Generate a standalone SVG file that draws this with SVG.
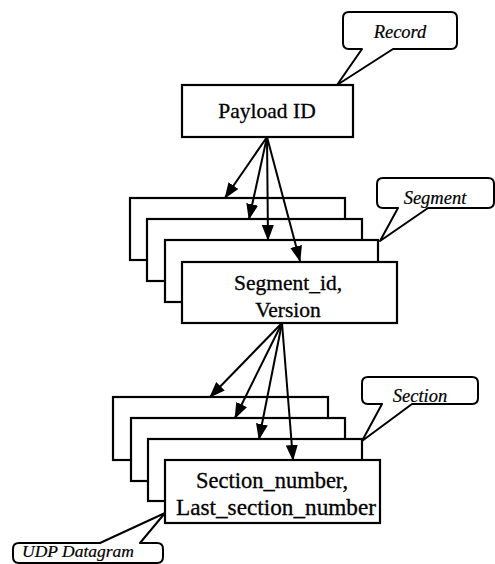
<svg xmlns="http://www.w3.org/2000/svg" width="495" height="564" viewBox="0 0 495 564">
<style>
.box{fill:#fff;stroke:#000;stroke-width:2.2}
.call{fill:#fff;stroke:#000;stroke-width:2;stroke-linejoin:round}
.t{font-family:"Liberation Serif","Times New Roman",serif;font-size:21.5px;fill:#000;stroke:#000;stroke-width:0.3;text-anchor:middle}
.ct{font-family:"Liberation Serif","Times New Roman",serif;font-style:italic;font-size:18.5px;fill:#000;stroke:#000;stroke-width:0.2;text-anchor:middle}
.conn line{stroke:#000;stroke-width:2;marker-end:url(#ah)}
</style>
<defs>
<marker id="ah" viewBox="0 0 16 12" refX="15" refY="6" markerWidth="16" markerHeight="12" markerUnits="userSpaceOnUse" orient="auto">
<path d="M0,0 L16,6 L0,12 Z" fill="#000"/>
</marker>
</defs>
<rect width="495" height="564" fill="#fff"/>

<g id="payload">
<rect class="box" x="182" y="85" width="171" height="52"/>
<text class="t" x="267" y="118">Payload ID</text>
</g>

<g id="record-callout">
<path class="call" d="M349,12 H451 Q457,12 457,18 V43 Q457,49 451,49 H393 L337,85 L362,49 H349 Q343,49 343,43 V18 Q343,12 349,12 Z"/>
<text class="ct" x="400" y="38">Record</text>
</g>

<g id="segment-stack">
<rect class="box" x="130" y="198" width="215" height="62"/>
<rect class="box" x="147" y="219" width="215" height="62"/>
<rect class="box" x="165" y="240" width="213" height="62"/>
</g>
<g id="segment">
<rect class="box" x="182" y="262" width="215" height="61"/>
<text class="t" x="288" y="290">Segment_id,</text>
<text class="t" x="288" y="317">Version</text>
</g>

<g id="segment-callout">
<path class="call" d="M383,178 H488 Q494,178 494,184 V202 Q494,208 488,208 H428 L380,241 L398,208 H383 Q377,208 377,202 V184 Q377,178 383,178 Z"/>
<text class="ct" x="435" y="204">Segment</text>
</g>

<g id="section-stack">
<rect class="box" x="113" y="397" width="215" height="63"/>
<rect class="box" x="131" y="418" width="214" height="63"/>
<rect class="box" x="148" y="439" width="214" height="62"/>
</g>
<g id="section">
<rect class="box" x="165" y="460" width="215" height="63"/>
<text class="t" x="272" y="488" style="font-size:22.5px">Section_number,</text>
<text class="t" x="276" y="515" style="font-size:22.5px" textLength="200" lengthAdjust="spacingAndGlyphs">Last_section_number</text>
</g>

<g id="section-callout">
<path class="call" d="M368,377 H472 Q478,377 478,383 V398 Q478,404 472,404 H412 L362,441 L382,404 H368 Q362,404 362,398 V383 Q362,377 368,377 Z"/>
<text class="ct" x="420" y="402">Section</text>
</g>

<g id="udp-callout">
<path class="call" d="M19,543 H100 L165,513 L140,543 H157 Q163,543 163,549 V557 Q163,563 157,563 H19 Q13,563 13,557 V549 Q13,543 19,543 Z"/>
<text class="ct" x="22" y="557" style="text-anchor:start;font-size:17.5px">UDP Datagram</text>
</g>

<g id="connectors" class="conn">
<line x1="267" y1="137" x2="225" y2="198"/>
<line x1="267" y1="137" x2="249" y2="219"/>
<line x1="267" y1="137" x2="268" y2="240"/>
<line x1="267" y1="137" x2="300" y2="261"/>
<line x1="282" y1="323" x2="210" y2="397"/>
<line x1="282" y1="323" x2="235" y2="418"/>
<line x1="282" y1="323" x2="259" y2="439"/>
<line x1="282" y1="323" x2="293" y2="460"/>
</g>
</svg>
